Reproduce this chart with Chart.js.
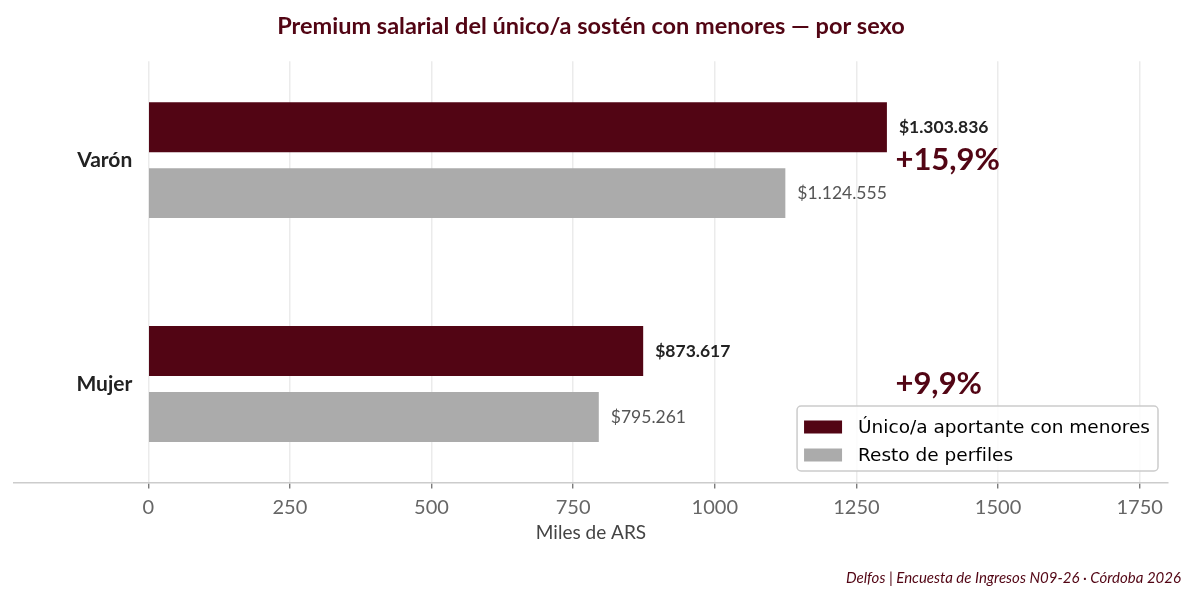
<!DOCTYPE html>
<html lang="es">
<head>
  <meta charset="UTF-8">
  <title>Premium salarial por sexo</title>
  <script src="https://cdn.jsdelivr.net/npm/chart.js"></script>
  <style>
    body { margin: 0; background: #fff; }
    #wrap { width: 1195px; height: 600px; }
  </style>
</head>
<body>
  <div id="wrap"><canvas id="chart"></canvas></div>
  <script>
    // valores en miles de ARS
    const categories = ['Varón', 'Mujer'];
    const seriesNames = ['Único/a aportante con menores', 'Resto de perfiles'];
    const unicoValues = [1303.836, 873.617];
    const restoValues = [1124.555, 795.261];
    const xTicks = [0, 250, 500, 750, 1000, 1250, 1500, 1750];

    const MAROON = '#520514';
    const GRAY = '#ababab';
    const FONT = 'Lato, "Open Sans", sans-serif';
    const FOOTER = 'Delfos | Encuesta de Ingresos N09-26 · Córdoba 2026';

    function pesos(v) {
      const n = Math.round(v * 1000).toString().replace(/\B(?=(\d{3})+(?!\d))/g, '.');
      return '$' + n;
    }
    function premium(u, r) {
      return '+' + ((u / r - 1) * 100).toFixed(1).replace('.', ',') + '%';
    }

    const labelsPlugin = {
      id: 'labels',
      afterDatasetsDraw(chart) {
        const { ctx, scales: { x, y }, chartArea } = chart;
        ctx.save();
        ctx.textBaseline = 'middle';

        // etiquetas de categoria
        ctx.font = 'bold 21px ' + FONT;
        ctx.fillStyle = '#222';
        ctx.textAlign = 'right';
        categories.forEach((c, i) => {
          ctx.fillText(c, x.getPixelForValue(0) - 16, y.getPixelForValue(i));
        });

        // valores al final de cada barra
        ctx.textAlign = 'left';
        chart.getDatasetMeta(0).data.forEach((bar, i) => {
          ctx.font = 'bold 17.5px ' + FONT;
          ctx.fillStyle = '#222';
          ctx.fillText(pesos(unicoValues[i]), bar.x + 12, bar.y);
        });
        chart.getDatasetMeta(1).data.forEach((bar, i) => {
          ctx.font = '17.5px ' + FONT;
          ctx.fillStyle = '#555';
          ctx.fillText(pesos(restoValues[i]), bar.x + 12, bar.y);
        });

        // premium
        const maxVal = Math.max(...unicoValues, ...restoValues);
        ctx.font = 'bold 31px ' + FONT;
        ctx.fillStyle = MAROON;
        categories.forEach((c, i) => {
          ctx.fillText(premium(unicoValues[i], restoValues[i]), x.getPixelForValue(maxVal + 15), y.getPixelForValue(i));
        });

        // leyenda
        ctx.font = '18.5px "DejaVu Sans", sans-serif';
        const textW = Math.max(...seriesNames.map(s => ctx.measureText(s).width));
        const boxW = 7 + 38 + 16 + textW + 8;
        const boxH = 65;
        const bx = chartArea.right - 10 - boxW;
        const by = chartArea.bottom - 11.5 - boxH;
        ctx.beginPath();
        ctx.roundRect(bx, by, boxW, boxH, 4);
        ctx.fillStyle = 'rgba(255,255,255,0.85)';
        ctx.fill();
        ctx.strokeStyle = '#cccccc';
        ctx.lineWidth = 1.5;
        ctx.stroke();
        const colors = [MAROON, GRAY];
        seriesNames.forEach((s, i) => {
          const cy = by + 21 + i * 28;
          ctx.fillStyle = colors[i];
          ctx.fillRect(bx + 7, cy - 6.5, 38, 13);
          ctx.fillStyle = '#000';
          ctx.fillText(s, bx + 7 + 38 + 16, cy + 1);
        });

        // fuente
        ctx.font = 'italic 15px ' + FONT;
        ctx.fillStyle = MAROON;
        ctx.textAlign = 'right';
        ctx.fillText(FOOTER, chart.width - 14, chart.height - 22);
        ctx.restore();
      }
    };

    new Chart(document.getElementById('chart'), {
      type: 'bar',
      data: {
        datasets: [
          {
            label: seriesNames[0],
            data: unicoValues.map((v, i) => ({ x: v, y: i })),
            backgroundColor: MAROON
          },
          {
            label: seriesNames[1],
            data: restoValues.map((v, i) => ({ x: v, y: i })),
            backgroundColor: GRAY
          }
        ]
      },
      options: {
        indexAxis: 'y',
        responsive: true,
        maintainAspectRatio: false,
        animation: false,
        categoryPercentage: 0.5893,
        barPercentage: 0.7576,
        layout: { padding: { left: 14, right: 27, top: 0, bottom: 39.6 } },
        scales: {
          y: {
            type: 'linear',
            display: false,
            reverse: true,
            offset: false,
            bounds: 'data',
            min: -0.442,
            max: 1.44,
            ticks: { includeBounds: false, stepSize: 1 },
            afterBuildTicks: s => { s.ticks = categories.map((c, i) => ({ value: i })); }
          },
          x: {
            type: 'linear',
            bounds: 'data',
            min: -237,
            max: 1800,
            afterBuildTicks: s => { s.ticks = xTicks.map(v => ({ value: v })); },
            afterFit: s => { s.height = 77.9; },
            grid: {
              color: '#ebebeb',
              lineWidth: 1.5,
              tickColor: '#666',
              tickWidth: 1.2,
              tickLength: 6
            },
            border: { color: '#cccccc', width: 1.5 },
            ticks: {
              color: '#666',
              padding: 7,
              font: { family: FONT, size: 20 },
              callback: v => String(v)
            },
            title: {
              display: true,
              text: 'Miles de ARS',
              color: '#444',
              font: { family: FONT, size: 19 },
              padding: { top: 0, bottom: 16 }
            }
          }
        },
        plugins: {
          legend: { display: false },
          tooltip: { enabled: false },
          title: {
            display: true,
            text: 'Premium salarial del único/a sostén con menores — por sexo',
            color: MAROON,
            font: { family: FONT, size: 23.5, weight: 'bold', lineHeight: 1.2 },
            padding: { top: 12, bottom: 21 }
          }
        }
      },
      plugins: [labelsPlugin]
    });
  </script>
</body>
</html>
